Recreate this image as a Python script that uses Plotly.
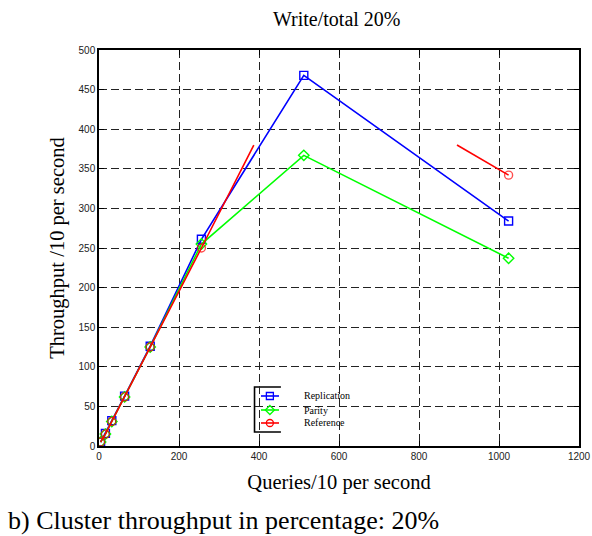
import plotly.graph_objects as go

# Queries/10 per second (x) and throughput/10 per second (y) for each scheme
queries = [4, 16, 32, 64, 128, 256, 512, 1024]
replication = [5, 16, 32, 63, 126, 261, 468, 284]
parity = [5, 15, 31, 62, 125, 255, 367, 237]

# Reference curve is drawn as two segments; the breakpoints carry no marker
reference_x = [4, 16, 32, 64, 128, 256, 387, None, 895, 1024]
reference_y = [5, 15, 31, 62, 125, 250, 380, None, 380, 342]
reference_marker = [8, 8, 8, 8, 8, 8, 0, 0, 0, 8]

x_ticks = [0, 200, 400, 600, 800, 1000, 1200]
y_ticks = [0, 50, 100, 150, 200, 250, 300, 350, 400, 450, 500]

series_names = ["Replication", "Parity", "Reference"]
series_colors = ["#0000ff", "#00ff00", "#ff0000"]
series_symbols = ["square-open", "diamond-open", "circle-open"]

serif = "Liberation Serif, Times New Roman, serif"
sans = "Liberation Sans, Arial, sans-serif"

fig = go.Figure()
fig.add_trace(go.Scatter(
    x=queries, y=replication, name=series_names[0], mode="lines+markers",
    line=dict(color=series_colors[0], width=1.6),
    marker=dict(symbol=series_symbols[0], size=8, color=series_colors[0], line=dict(width=1.4)),
))
fig.add_trace(go.Scatter(
    x=queries, y=parity, name=series_names[1], mode="lines+markers",
    line=dict(color=series_colors[1], width=1.6),
    marker=dict(symbol=series_symbols[1], size=8, color=series_colors[1], line=dict(width=1.4)),
))
fig.add_trace(go.Scatter(
    x=reference_x, y=reference_y, name=series_names[2], mode="lines+markers",
    connectgaps=False,
    line=dict(color=series_colors[2], width=1.6),
    marker=dict(symbol=series_symbols[2], size=reference_marker, color=series_colors[2],
                line=dict(width=1.4)),
))

# Compact legend box: white panel with an open right side
legend_left, legend_right = 0.324, 0.569
legend_bottom, legend_top = 0.0354, 0.149
legend_rows = [0.1263, 0.0909, 0.0581]
sample_x0, sample_x1, sample_mid = 0.3375, 0.375, 0.356
label_x = 0.423

fig.add_shape(type="rect", xref="paper", yref="paper",
              x0=legend_left, x1=legend_right, y0=legend_bottom, y1=legend_top,
              fillcolor="white", line=dict(width=0), layer="between")
fig.add_shape(type="path", xref="paper", yref="paper",
              path=f"M 0.379 {legend_top} L {legend_left} {legend_top} "
                   f"L {legend_left} {legend_bottom} L 0.379 {legend_bottom}",
              line=dict(color="black", width=1.6), layer="between")

for name, color, symbol, row in zip(series_names, series_colors, series_symbols, legend_rows):
    fig.add_trace(go.Scatter(
        x=[sample_x0, sample_x1], y=[row, row], mode="lines",
        line=dict(color=color, width=1.6), xaxis="x2", yaxis="y2",
        showlegend=False, hoverinfo="skip",
    ))
    fig.add_trace(go.Scatter(
        x=[sample_mid], y=[row], mode="markers",
        marker=dict(symbol=symbol, size=7, color=color, line=dict(width=1.3)),
        xaxis="x2", yaxis="y2", showlegend=False, hoverinfo="skip",
    ))
    fig.add_annotation(text=name, xref="paper", yref="paper", x=label_x, y=row,
                       xanchor="left", yanchor="middle", showarrow=False,
                       font=dict(family=serif, size=10, color="black"))

axis_common = dict(
    showline=True, linecolor="black", linewidth=1.5, mirror="ticks",
    ticks="inside", ticklen=5, tickcolor="black", tickwidth=1,
    showgrid=True, gridcolor="#222222", gridwidth=1, griddash="8px,4px",
    zeroline=False, automargin=False,
    tickfont=dict(family=sans, size=10, color="#222222"),
)

fig.update_xaxes(
    range=[0, 1200], tickvals=x_ticks, ticktext=[str(v) for v in x_ticks],
    title=dict(text="Queries/10 per second", font=dict(family=serif, size=20.5, color="black"),
               standoff=14),
    **axis_common,
)
fig.update_yaxes(
    range=[0, 500], tickvals=y_ticks, ticktext=[str(v) for v in y_ticks],
    title=dict(text="Throughput /10 per second", font=dict(family=serif, size=20.5, color="black"),
               standoff=8),
    **axis_common,
)

fig.update_layout(
    xaxis2=dict(overlaying="x", range=[0, 1], visible=False, fixedrange=True),
    yaxis2=dict(overlaying="y", range=[0, 1], visible=False, fixedrange=True),
)

fig.add_annotation(
    text="Write/total 20%", xref="paper", yref="paper", x=0.496, y=1.0,
    yshift=44, showarrow=False, font=dict(family=serif, size=20, color="black"),
)
fig.add_annotation(
    text="b) Cluster throughput in percentage: 20%", xref="paper", yref="paper",
    x=-0.194, y=-0.147, xanchor="left", yanchor="top", showarrow=False,
    font=dict(family=serif, size=26, color="black"),
)

fig.update_layout(
    width=592, height=536,
    margin=dict(l=99, r=13, t=50, b=90),
    paper_bgcolor="white", plot_bgcolor="white",
    showlegend=False,
)

fig.write_html("out.html")
